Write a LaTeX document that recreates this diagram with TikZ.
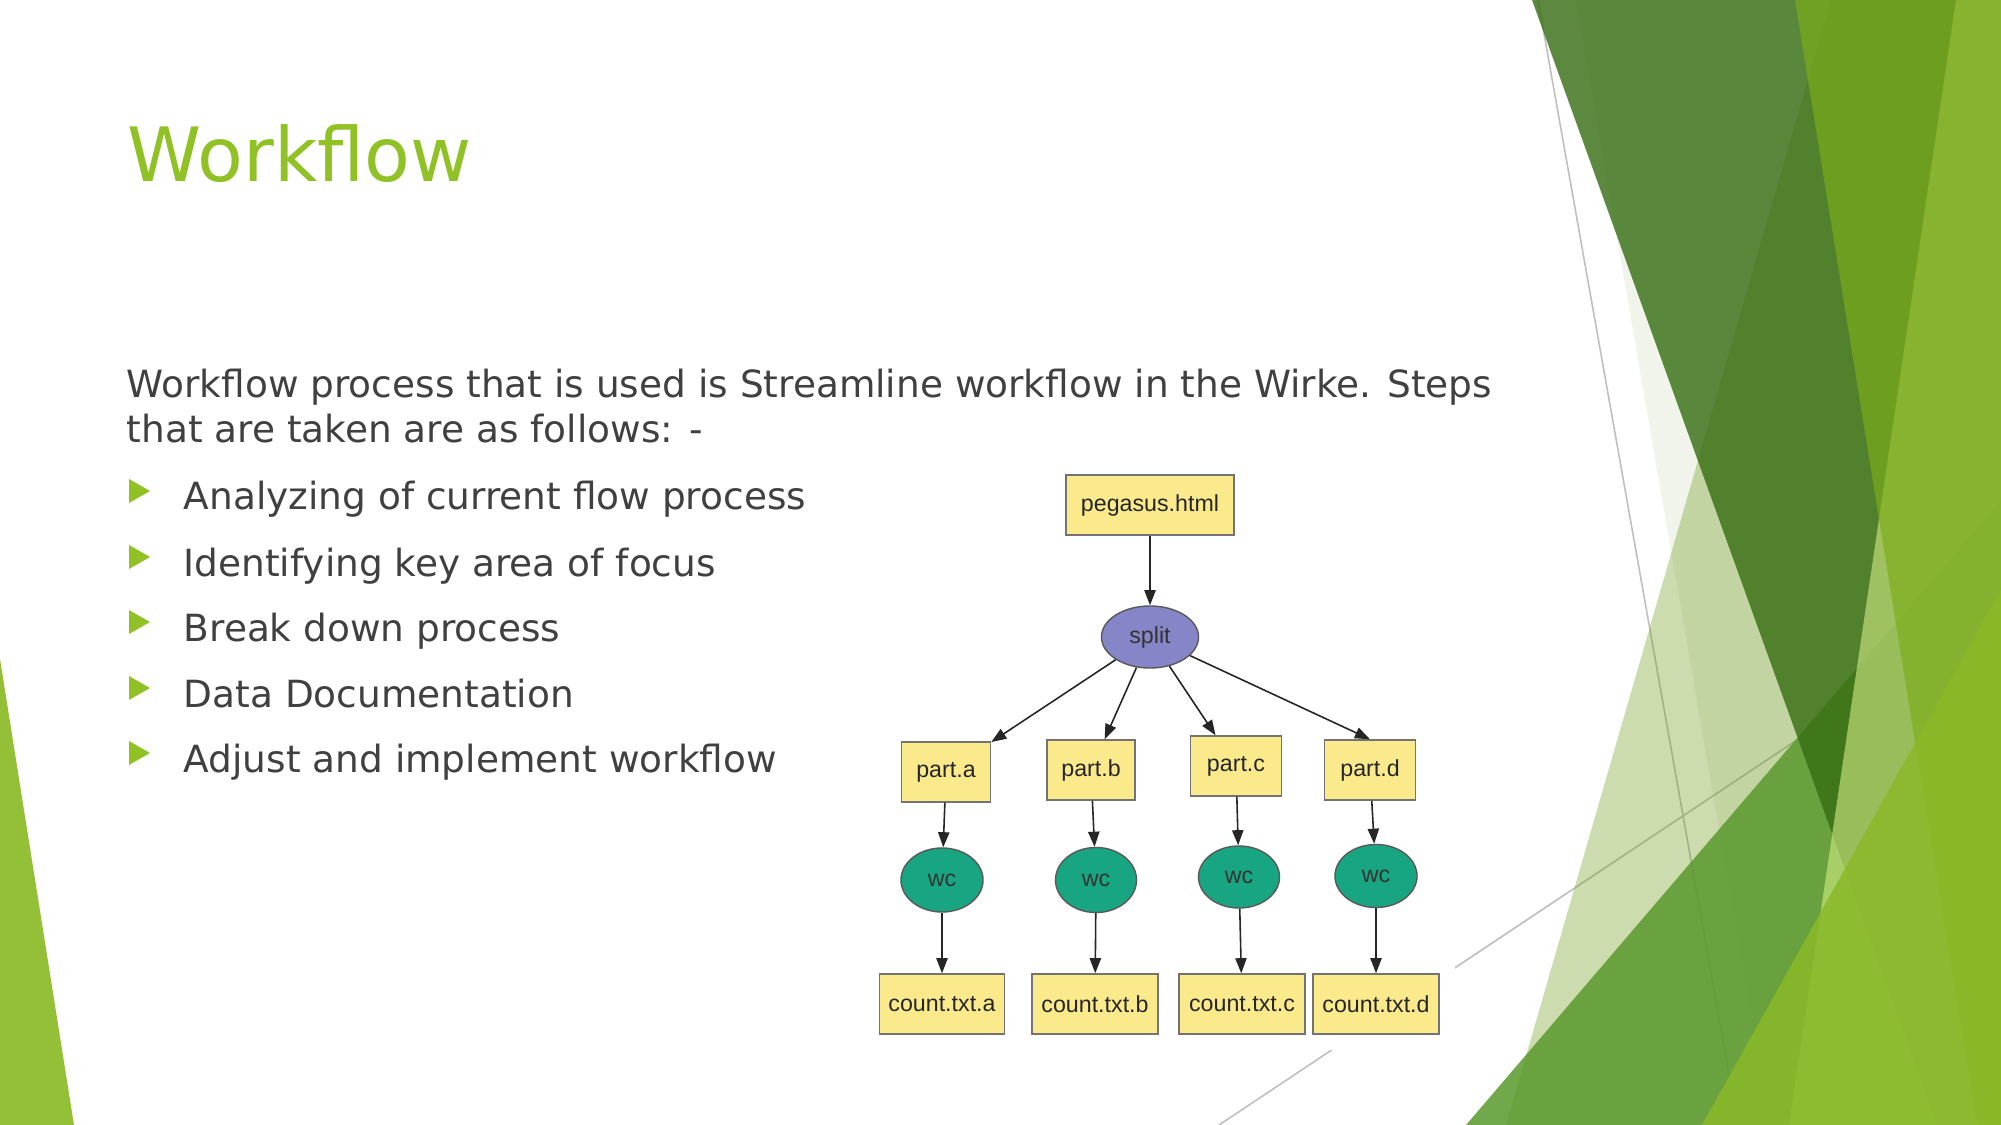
\documentclass[tikz,border=0pt]{standalone}
\usepackage{fontspec}
\setmainfont{DejaVu Sans}
\newfontfamily\graphfont{Liberation Sans}
\usepackage{tikz}
\usetikzlibrary{arrows.meta, positioning, shapes.geometric}

\definecolor{facetgreen}{RGB}{144,194,38}
\definecolor{bodygray}{RGB}{64,64,64}
\definecolor{ruleline}{RGB}{191,191,191}
\definecolor{fileyellow}{RGB}{250,234,140}
\definecolor{splitblue}{RGB}{133,133,200}
\definecolor{wcteal}{RGB}{24,165,130}
\definecolor{facetA}{RGB}{112,155,26}
\definecolor{facetB}{RGB}{90,140,30}
\definecolor{facetC}{RGB}{89,153,44}
\definecolor{facetD}{RGB}{55,110,19}
\definecolor{facetE}{RGB}{211,237,133}
\definecolor{facetF}{RGB}{124,173,26}
\definecolor{facetG}{RGB}{138,185,40}
\definecolor{facetH}{RGB}{148,192,55}

\begin{document}
\begin{tikzpicture}[x=0.01cm, y=-0.01cm,
    filebox/.style={rectangle, draw=black!55, fill=fileyellow, line width=0.4pt,
        minimum height=0.6cm, inner sep=0pt, text=black!85,
        font=\graphfont\fontsize{6.6}{7}\selectfont},
    jobnode/.style={ellipse, draw=black!65, line width=0.4pt, inner sep=0pt,
        text=black!80, font=\graphfont\fontsize{6.6}{7}\selectfont},
    flow/.style={-{Triangle[length=4.3pt, width=3.2pt]}, line width=0.45pt, black!85},
    bullettext/.style={anchor=base west, inner sep=0pt, text=bodygray,
        font=\fontsize{10.65}{12.8}\selectfont}]
    \useasboundingbox (0,0) rectangle (2001,1125);
    \fill[white] (0,0) rectangle (2001,1125);

    % Facet shapes, left
    \fill[facetH] (0,659) -- (74,1125) -- (0,1125) -- cycle;

    % Facet lines
    \draw[ruleline, line width=0.45pt] (1538,0) -- (1738,1125);
    \draw[ruleline, line width=0.45pt] (1219,1125) -- (2001,604);

    % Facet shapes, right
    \fill[facetA, opacity=0.35] (1831,0) -- (2001,0) -- (2001,1125) -- (1506,1125) -- cycle;
    \fill[facetB, opacity=0.09] (1576,0) -- (2001,0) -- (2001,1125) -- (1770,1125) -- cycle;
    \fill[facetC, opacity=0.85] (2001,500) -- (2001,1125) -- (1466,1125) -- cycle;
    \fill[facetD, opacity=0.81] (1532,0) -- (2001,0) -- (2001,1125) -- (1937,1125) -- cycle;
    \fill[facetE, opacity=0.6] (1956,0) -- (2001,0) -- (2001,1125) -- (1789,1125) -- cycle;
    \fill[facetF, opacity=0.68] (1795,0) -- (2001,0) -- (2001,1125) -- (1977,1125) -- cycle;
    \fill[facetG, opacity=0.85] (2001,589) -- (2001,1125) -- (1702,1125) -- cycle;

    % Title
    \node[anchor=base west, inner sep=0pt, text=facetgreen,
        font=\fontsize{21.3}{25}\selectfont] (title) at (127,182) {Workflow};

    % Text
    \node[bullettext] (intro) at (126,398)
        {Workflow process that is used is Streamline workflow in the Wirke. Steps};
    \node[bullettext] (introrest) at (126,443) {that are taken are as follows: -};

    % Bullets
    \fill[facetgreen] (129,479) -- (150,491) -- (129,503) -- cycle;
    \node[bullettext] (itema) at (183,510) {Analyzing of current flow process};
    \fill[facetgreen] (129,545) -- (150,557) -- (129,569) -- cycle;
    \node[bullettext] (itemb) at (183,576) {Identifying key area of focus};
    \fill[facetgreen] (129,610) -- (150,622) -- (129,634) -- cycle;
    \node[bullettext] (itemc) at (183,641) {Break down process};
    \fill[facetgreen] (129,676) -- (150,688) -- (129,700) -- cycle;
    \node[bullettext] (itemd) at (183,707) {Data Documentation};
    \fill[facetgreen] (129,741) -- (150,753) -- (129,765) -- cycle;
    \node[bullettext] (iteme) at (183,772) {Adjust and implement workflow};

    % Workflow picture
    \fill[white] (870,465) rectangle (1455,1050);
    \node[filebox, minimum width=1.68cm] (peg) at (1150,505) {pegasus.html};
    \node[jobnode, fill=splitblue, minimum width=0.97cm, minimum height=0.62cm] (split) at (1150,637) {split};

    \node[filebox, minimum width=0.89cm] (pa) at (946,772) {part.a};
    \node[filebox, minimum width=0.88cm] (pb) at (1091,770) {part.b};
    \node[filebox, minimum width=0.91cm] (pc) at (1236,766) {part.c};
    \node[filebox, minimum width=0.91cm] (pd) at (1370,770) {part.d};

    \node[jobnode, fill=wcteal, minimum width=0.82cm, minimum height=0.64cm] (wa) at (942,880) {wc};
    \node[jobnode, fill=wcteal, minimum width=0.81cm, minimum height=0.65cm] (wb) at (1096,880) {wc};
    \node[jobnode, fill=wcteal, minimum width=0.81cm, minimum height=0.62cm] (wc) at (1239,877) {wc};
    \node[jobnode, fill=wcteal, minimum width=0.82cm, minimum height=0.63cm] (wd) at (1376,876) {wc};

    \node[filebox, minimum width=1.25cm] (ca) at (942,1004) {count.txt.a};
    \node[filebox, minimum width=1.26cm] (cb) at (1095,1004) {count.txt.b};
    \node[filebox, minimum width=1.26cm] (cc) at (1242,1004) {count.txt.c};
    \node[filebox, minimum width=1.26cm] (cd) at (1376,1004) {count.txt.d};

    % Edges
    \draw[flow] (peg) -- (split);
    \draw[flow] (split) -- (pa);
    \draw[flow] (split) -- (pb);
    \draw[flow] (split) -- (pc);
    \draw[flow] (split) -- (pd.north);
    \draw[flow] (pa) -- (wa);
    \draw[flow] (pb) -- (wb);
    \draw[flow] (pc) -- (wc);
    \draw[flow] (pd) -- (wd);
    \draw[flow] (wa) -- (ca);
    \draw[flow] (wb) -- (cb);
    \draw[flow] (wc) -- (cc);
    \draw[flow] (wd) -- (cd);
\end{tikzpicture}
\end{document}
